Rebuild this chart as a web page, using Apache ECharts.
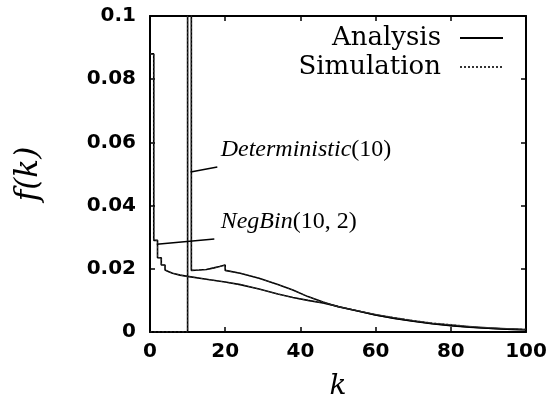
<!DOCTYPE html>
<html>
<head>
<meta charset="utf-8">
<script src="https://cdn.jsdelivr.net/npm/echarts@6/dist/echarts.min.js"></script>
<style>
  html, body { margin: 0; padding: 0; background: #fff; }
  #chart { width: 547px; height: 401px; }
</style>
</head>
<body>
<div id="chart"></div>
<script>
// k values of the NegBin(10,2) curve (repeated k = vertical step)
const negBinK = [0, 1, 1, 2, 2, 3, 3, 4, 4, 5, 6, 8, 10, 15, 20, 24, 29, 34, 38, 42, 46, 50, 55, 60, 65, 70, 75, 80, 85, 90, 95, 100]
const negBinAnalysis = [0.088, 0.088, 0.029, 0.029, 0.0235, 0.0235, 0.0212, 0.0212, 0.0196, 0.0191, 0.0186, 0.018, 0.0176, 0.0167, 0.0158, 0.015, 0.0136, 0.012, 0.0109, 0.01, 0.0092, 0.0081, 0.0067, 0.0054, 0.0043, 0.0034, 0.0026, 0.002, 0.0015, 0.0012, 0.0009, 0.0007]
const negBinSimulation = [0.088, 0.088, 0.029, 0.029, 0.0235, 0.0235, 0.0212, 0.0212, 0.0196, 0.0191, 0.0186, 0.018, 0.0176, 0.0167, 0.0158, 0.015, 0.0136, 0.012, 0.0109, 0.01, 0.0092, 0.0081, 0.0068, 0.0056, 0.0045, 0.0036, 0.0028, 0.0023, 0.0018, 0.0014, 0.0011, 0.0009]

// k values of the Deterministic(10) curve
const detK = [0, 10, 10, 11, 11, 13, 15, 17, 18.5, 19, 20, 20, 24, 29, 34, 38, 42, 46, 50, 55, 60, 65, 70, 75, 80, 85, 90, 95, 100]
const detAnalysis = [0, 0, 0.5, 0.5, 0.0195, 0.0196, 0.0198, 0.0203, 0.0207, 0.0212, 0.0212, 0.0195, 0.0186, 0.017, 0.015, 0.0133, 0.0112, 0.0095, 0.008, 0.0067, 0.0054, 0.0044, 0.0035, 0.0027, 0.0021, 0.0016, 0.0012, 0.0009, 0.0007]
const detSimulation = [0, 0, 0.5, 0.5, 0.0195, 0.0196, 0.0198, 0.0203, 0.0207, 0.0212, 0.0212, 0.0195, 0.0186, 0.017, 0.015, 0.0133, 0.0112, 0.0095, 0.008, 0.0068, 0.0056, 0.0046, 0.0037, 0.0029, 0.0024, 0.0018, 0.0014, 0.0011, 0.0008]

const xTicks = { min: 0, max: 100, interval: 20 }
const yTicks = { min: 0, max: 0.1, interval: 0.02 }

function pairs(ks, fs) {
  return ks.map((k, i) => [k, fs[i]])
}

const serifItalic = { fontFamily: 'Liberation Serif', fontStyle: 'italic', fontSize: 24, color: '#000' }
const serifRoman = { fontFamily: 'Liberation Serif', fontSize: 24, color: '#000' }

function curve(name, data, dotted, marks) {
  const s = {
    name: name,
    type: 'line',
    data: data,
    symbol: 'none',
    clip: true,
    silent: true,
    z: dotted ? 3 : 2,
    itemStyle: { color: '#000' },
    lineStyle: dotted
      ? { color: '#333', width: 1, type: [2, 2] }
      : { color: '#000', width: 1.6 }
  }
  if (marks) {
    s.markLine = {
      silent: true,
      symbol: 'none',
      label: { show: false },
      lineStyle: { color: '#000', width: 1.5, type: 'solid' },
      data: [[{ coord: marks.from }, { coord: marks.to }]]
    }
    s.markPoint = {
      silent: true,
      symbol: 'circle',
      symbolSize: 0,
      label: {
        show: true,
        position: 'right',
        distance: 0,
        formatter: marks.text,
        rich: { i: serifItalic, r: serifRoman }
      },
      data: [{ coord: marks.labelAt }]
    }
  }
  return s
}

const chart = echarts.init(document.getElementById('chart'))

const axisLine = { show: true, onZero: false, lineStyle: { color: '#000', width: 2 } }
const axisTick = { show: true, inside: true, length: 5, lineStyle: { color: '#000', width: 1.5 } }
const tickFont = { fontFamily: 'DejaVu Sans', fontWeight: 'bold', fontSize: 20, color: '#000' }

chart.setOption({
  animation: false,
  backgroundColor: '#fff',
  grid: { left: 150, right: 21, top: 16, bottom: 69, outerBoundsMode: 'none', containLabel: false },
  legend: {
    orient: 'vertical',
    align: 'right',
    right: 38,
    top: 20,
    itemWidth: 43,
    itemHeight: 12,
    itemGap: 3,
    selectedMode: false,
    data: ['Analysis', 'Simulation'],
    itemStyle: { opacity: 0 },
    textStyle: { fontFamily: 'DejaVu Serif', fontSize: 26, color: '#000', padding: [0, 14, 0, 0] }
  },
  xAxis: [
    {
      type: 'value',
      ...xTicks,
      name: 'k',
      nameLocation: 'middle',
      nameGap: 41,
      nameTextStyle: { fontFamily: 'DejaVu Serif', fontStyle: 'italic', fontSize: 28, color: '#000' },
      axisLine: axisLine,
      axisTick: axisTick,
      axisLabel: { ...tickFont, margin: 10 },
      splitLine: { show: false }
    },
    {
      type: 'value',
      position: 'top',
      ...xTicks,
      axisLine: axisLine,
      axisTick: axisTick,
      axisLabel: { show: false },
      splitLine: { show: false }
    }
  ],
  yAxis: [
    {
      type: 'value',
      ...yTicks,
      name: 'f(k)',
      nameLocation: 'middle',
      nameGap: 106,
      nameTextStyle: { fontFamily: 'DejaVu Serif', fontStyle: 'italic', fontSize: 31, color: '#000' },
      axisLine: axisLine,
      axisTick: axisTick,
      axisLabel: { ...tickFont, margin: 14 },
      splitLine: { show: false }
    },
    {
      type: 'value',
      position: 'right',
      ...yTicks,
      axisLine: axisLine,
      axisTick: axisTick,
      axisLabel: { show: false },
      splitLine: { show: false }
    }
  ],
  series: [
    curve('Analysis', pairs(negBinK, negBinAnalysis), false, {
      from: [1.8, 0.0278],
      to: [17.1, 0.0294],
      labelAt: [18.8, 0.0348],
      text: '{i|NegBin}{r|(10, 2)}'
    }),
    curve('Simulation', pairs(negBinK, negBinSimulation), true),
    curve('Analysis', pairs(detK, detAnalysis), false, {
      from: [10.8, 0.0506],
      to: [17.9, 0.0522],
      labelAt: [18.8, 0.0578],
      text: '{i|Deterministic}{r|(10)}'
    }),
    curve('Simulation', pairs(detK, detSimulation), true)
  ]
})
</script>
</body>
</html>
